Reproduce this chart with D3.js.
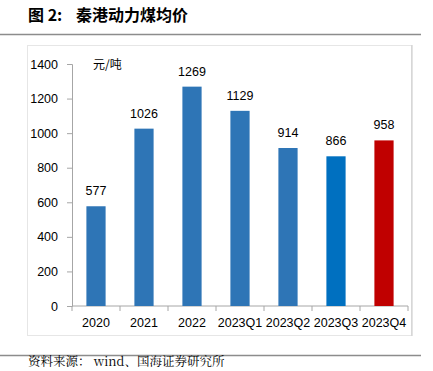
<!DOCTYPE html>
<meta charset="utf-8">
<head>
    <script src="https://d3js.org/d3.v7.min.js"></script>
</head>
<style>
    body { margin: 0; background: #fff; }
    svg { display: block; }
    text { white-space: pre; }
    .tick text { font-family: "Liberation Sans", Arial, sans-serif; font-size: 12.5px; fill: #000; }
</style>
<body>
<script>
    'use strict';

    const categories = ["2020", "2021", "2022", "2023Q1", "2023Q2", "2023Q3", "2023Q4"];
    const prices = [577, 1026, 1269, 1129, 914, 866, 958];
    const barColors = ["#2e75b6", "#2e75b6", "#2e75b6", "#2e75b6", "#2e75b6", "#0070c0", "#c00000"];
    const yTicks = [0, 200, 400, 600, 800, 1000, 1200, 1400];

    const W = 433, H = 371;
    const svg = d3.select("body").append("svg").attr("width", W).attr("height", H);

    // title and rules
    const title = svg.append("text").attr("x", 28).attr("y", 21)
        .style("font-family", "'Noto Sans CJK SC', sans-serif")
        .style("font-size", "16px").style("font-weight", "bold");
    title.append("tspan").text("图 2:");
    title.append("tspan").attr("x", 76).text("秦港动力煤均价");
    svg.append("line").attr("x1", 0).attr("x2", 421).attr("y1", 34.5).attr("y2", 34.5)
        .attr("stroke", "#8c8c8c").attr("stroke-width", 1.5);
    svg.append("line").attr("x1", 0).attr("x2", 421).attr("y1", 355.5).attr("y2", 355.5)
        .attr("stroke", "#8c8c8c").attr("stroke-width", 1.5);
    svg.append("text").attr("x", 28).attr("y", 366)
        .style("font-family", "'Noto Serif CJK SC', 'Noto Sans CJK SC', serif")
        .style("font-size", "12.5px")
        .text("资料来源： wind、国海证券研究所");

    // frame
    svg.append("rect").attr("x", 27.5).attr("y", 45.5).attr("width", 384).attr("height", 290)
        .attr("fill", "none").attr("stroke", "#e6e6e6");
    svg.append("line").attr("x1", 412).attr("x2", 412).attr("y1", 45).attr("y2", 336)
        .attr("stroke", "#c8c8c8");

    const margin = { left: 72, right: 408, top: 64, bottom: 306 };

    const x = d3.scaleBand().domain(categories).range([margin.left, margin.right]).paddingInner(0.6).paddingOuter(0.3);
    const y = d3.scaleLinear().domain([0, 1400]).range([margin.bottom, margin.top]);

    const yAxis = svg.append("g").attr("transform", `translate(${margin.left},0)`)
        .call(d3.axisLeft(y).tickValues(yTicks).tickFormat(d3.format("d")).tickSize(5).tickPadding(9));
    yAxis.selectAll("path, line").attr("stroke", "#a6a6a6");

    // x axis with tick marks between categories
    const xAxisG = svg.append("g").attr("transform", `translate(0,${margin.bottom})`);
    xAxisG.append("line").attr("x1", margin.left).attr("x2", margin.right)
        .attr("stroke", "#a6a6a6");
    const bounds = d3.range(categories.length + 1).map(i => margin.left + i * (margin.right - margin.left) / categories.length);
    xAxisG.selectAll(".sep").data(bounds).enter().append("line")
        .attr("x1", d => d).attr("x2", d => d).attr("y1", 0).attr("y2", 5)
        .attr("stroke", "#a6a6a6");
    xAxisG.selectAll(".lbl").data(categories).enter().append("text")
        .attr("x", d => x(d) + x.bandwidth() / 2).attr("y", 21)
        .attr("text-anchor", "middle")
        .style("font-family", "'Liberation Sans', Arial, sans-serif").style("font-size", "12.5px")
        .text(d => d);

    svg.selectAll(".bar").data(categories).enter().append("rect")
        .attr("x", d => x(d)).attr("width", x.bandwidth())
        .attr("y", (d, i) => y(prices[i])).attr("height", (d, i) => y(0) - y(prices[i]))
        .attr("fill", (d, i) => barColors[i]);

    svg.selectAll(".val").data(categories).enter().append("text")
        .attr("x", d => x(d) + x.bandwidth() / 2).attr("y", (d, i) => y(prices[i]) - 11)
        .attr("text-anchor", "middle")
        .style("font-family", "'Liberation Sans', Arial, sans-serif").style("font-size", "12.5px")
        .text((d, i) => prices[i]);

    svg.append("text").attr("x", 93).attr("y", 69)
        .style("font-family", "'Noto Sans CJK SC', sans-serif").style("font-size", "12px")
        .text("元/吨");
</script>
</body>
